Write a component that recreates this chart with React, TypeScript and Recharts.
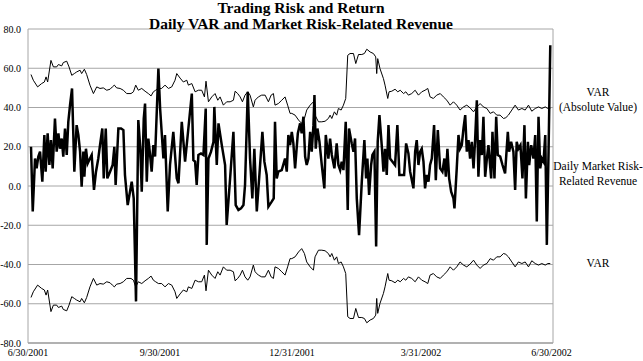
import React from "react";
import { LineChart, Line, XAxis, YAxis, CartesianGrid, ReferenceLine } from "recharts";

// Days since 6/30/2001 and daily market risk-related revenue ($mm)
const revenueDays = [
  2.1, 3.3, 4.9, 6.0, 7.2, 8.4, 10.0, 11.4, 12.3, 13.7, 14.9, 16.0, 17.2, 18.8, 20.0, 21.2, 22.3, 23.5, 24.6, 25.8,
  27.0, 28.1, 29.3, 30.7, 32.3, 33.9, 35.1, 36.3, 37.4, 38.6, 39.3, 40.4, 41.6, 43.2, 44.4, 46.0, 47.4, 49.0, 50.2, 51.8,
  52.8, 54.2, 55.3, 57.2, 59.0, 60.2, 61.1, 63.0, 64.9, 66.5, 67.6, 69.5, 71.1, 72.3, 73.7, 75.3, 76.9, 78.3, 79.3, 80.7,
  81.6, 82.8, 83.9, 85.1, 86.2, 87.4, 88.6, 90.9, 92.1, 94.4, 95.5, 97.4, 99.0, 101.3, 103.7, 104.9, 107.2, 109.5, 111.8, 114.2,
  115.3, 116.5, 117.6, 118.8, 120.6, 122.3, 123.9, 124.6, 125.8, 127.6, 129.3, 129.9, 131.6, 132.8, 135.1, 137.4, 138.5, 140.9, 143.2, 144.8,
  146.7, 148.5, 150.2, 151.3, 153.2, 154.8, 156.4, 157.8, 159.5, 161.8, 163.4, 164.8, 166.4, 167.6, 169.9, 171.3, 172.2, 173.4, 174.5, 176.9,
  179.2, 180.4, 181.5, 182.7, 183.9, 185.0, 186.2, 188.1, 189.7, 190.8, 192.0, 193.2, 194.3, 195.5, 196.7, 197.8, 199.0, 199.7, 200.6, 201.8,
  203.2, 204.8, 206.6, 207.6, 209.4, 210.6, 211.8, 213.6, 215.2, 216.4, 217.6, 218.7, 219.9, 221.5, 222.9, 223.8, 225.7, 226.9, 228.0, 229.2,
  230.8, 232.7, 234.5, 235.7, 236.6, 237.8, 239.2, 240.1, 241.5, 242.7, 243.8, 245.0, 246.6, 247.8, 248.9, 250.1, 251.3, 252.4, 254.1, 255.9,
  257.5, 258.9, 260.5, 262.2, 263.6, 265.2, 266.4, 268.7, 269.9, 271.0, 272.2, 273.4, 274.5, 275.7, 276.8, 278.0, 279.2, 280.3, 281.5, 283.1,
  284.3, 285.7, 287.3, 288.9, 290.3, 291.3, 292.4, 293.6, 295.0, 296.6, 297.3, 298.9, 300.1, 301.2, 302.4, 303.6, 304.8, 305.9, 307.1, 308.2,
  309.4, 310.6, 311.7, 312.9, 314.0, 315.2, 316.4, 317.5, 318.7, 319.9, 321.0, 322.9, 323.8, 325.2, 326.4, 327.5, 329.2, 330.8, 332.6, 334.5,
  335.4, 336.8, 338.4, 339.6, 340.7, 341.9, 343.3, 344.7, 346.1, 347.1, 348.5, 349.4, 350.8, 352.4, 353.6, 354.7, 355.9, 357.1, 358.2, 359.4,
  360.6, 361.7, 362.9, 364.1,
];
const revenueValues = [
  20, -13, 14, 9, 15, 17.5, 2.2, 26, 7.3, 26.8, 10.7, 23.4, 9, 34.4, 17.5, 26.8, 19, 24.2, 15, 29.3,
  15.8, 32.7, 41.2, 49.7, 7.3, 31, 26, 17.5, -0.3, 17.5, 4.7, 19, 11.5, 14, 15.8, -2, 7.3, 14, 20.8, 29.3,
  3.9, 29.3, 3.9, 7.3, 10.7, 20, 0.5, 29.3, 29.3, 28.5, 5.6, -9.7, -2.9, 2.2, -6.3, -58.8, 33.6, 19, -2.9, 34.4,
  42, 2.2, 24.2, 15.8, 7.3, 20.8, 15, 59.8, 39.5, 14, 26, -13, 10.7, 27.6, 3.9, 1.4, 32.7, 12.4, 29.3, 47.1,
  13.2, 12.4, 0.5, 15.8, 16.6, 15.8, 39.5, -30, 14, 17.5, 22.5, 40.3, 10.7, 31.9, 20.8, 10.7, -19.8, 3.9, 27.6, -9.7,
  -12.2, -11.4, -9.7, 0.5, 48, 14, -6.3, 19, -13, 10.7, 27.6, 12.4, 5.6, -10.5, -8, -6.3, 32.7, 3.9, 7.3, 8.1,
  14, 7.3, 26, 20.8, 27.6, 21.7, 9, 26.8, 31.9, 26.8, 35.3, 15, 10.7, 14, 27.6, 17.5, 31, 46.3, 19, 29.3,
  22.5, 10.7, -1.2, 26, 14, 24.2, 15.8, 9, 21.7, 10.7, 8.1, 12.4, 8.1, 32.7, -12.2, 29.3, 21.7, 17.5, 24.2, -6.3,
  -25, 2.2, 23.4, 3.9, 14, -4.6, 10.7, 15.8, 17.5, -30.8, 22.5, 36.1, 20.8, 7.3, 19, 5.6, 31, 14, 12.4, 10.7,
  31, 5.6, 5.6, 5.6, 21.7, 16.6, 7.3, -1.2, 17.5, 23.4, 10.7, 17.5, 19, 12.4, -1.2, 5.6, 2.2, 10.7, 14, 31,
  3, 28.5, 9, 7.3, 14, 4.7, 19, 3.9, -2.9, -6.3, -11.4, 9, 26, 19, 20.8, 29.3, 36.1, 17.5, 23.4, 14,
  22.5, 9, 23.4, 43.7, 4.7, 23.4, 15.8, 35.3, 4.7, 14, 20.8, 3.9, 27.6, 3.9, 35.3, 15.8, 15, 10.7, 6.4, 27.6,
  17.5, 22.5, 17.5, -2, 22.5, 19, 20.8, 3.9, 31, -6.3, 22.5, 10.7, 20.8, 14, 26, -18.1, 35.3, 9, 14, 12.4,
  26, -30, 17.5, 71.7,
];

// Days since 6/30/2001 and daily VAR (absolute value)
const varDays = [
  2.1, 3.7, 6.7, 9.5, 11.4, 12.6, 13.7, 16.0, 17.7, 20.0, 21.2, 23.5, 24.6, 27.0, 28.6, 30.5, 32.3, 33.9, 36.3, 37.4,
  39.3, 40.9, 43.2, 45.6, 47.9, 50.2, 52.5, 54.9, 57.2, 58.8, 60.2, 61.8, 64.2, 66.5, 68.8, 71.8, 73.5, 75.1, 76.9, 79.3,
  81.6, 83.9, 85.8, 87.4, 89.0, 90.9, 93.2, 95.5, 97.9, 100.2, 102.5, 103.7, 106.0, 108.3, 110.7, 111.8, 114.2, 116.5, 118.8, 121.1,
  123.0, 124.1, 125.8, 128.1, 130.4, 132.3, 133.9, 136.2, 138.5, 140.9, 143.2, 144.4, 146.2, 147.9, 149.5, 151.3, 153.2, 154.8, 157.1, 158.3,
  160.6, 162.9, 165.3, 167.6, 169.5, 171.1, 172.2, 174.5, 176.9, 179.2, 181.0, 182.7, 183.9, 186.2, 188.6, 190.8, 192.7, 194.3, 196.7, 199.0,
  200.1, 202.5, 204.8, 207.1, 209.4, 210.6, 211.8, 213.6, 215.2, 216.4, 218.3, 219.9, 221.5, 222.9, 224.5, 226.9, 228.5, 230.4, 232.7, 234.5,
  236.2, 238.5, 240.8, 242.4, 243.1, 243.8, 245.4, 247.8, 248.9, 250.8, 251.7, 253.6, 255.9, 257.8, 259.5, 261.8, 263.4, 265.2, 267.5, 269.9,
  272.2, 274.5, 276.8, 278.7, 280.3, 282.6, 284.9, 287.4, 289.6, 292.0, 294.3, 296.6, 298.9, 301.2, 303.6, 305.9, 308.2, 310.6, 312.9, 315.2,
  317.5, 319.9, 322.2, 324.5, 326.8, 329.1, 331.5, 333.1, 334.9, 337.3, 339.6, 341.9, 344.3, 346.6, 348.9, 351.2, 353.6, 355.9, 358.2, 360.6,
  362.4, 364.1,
];
const varValues = [
  56.8, 53.9, 50.5, 52.2, 53, 55.6, 53, 64, 60.7, 60.7, 61.9, 61.2, 62.9, 63.6, 60.7, 56.4, 57.3, 58.1, 59, 57.3,
  59.5, 56.8, 51.4, 47.1, 50.5, 49.7, 50, 48.8, 49.3, 50.5, 51.4, 50, 49.7, 48.8, 47.1, 47.1, 48, 51.4, 48.8, 49.7,
  48.3, 47.1, 45.9, 48, 48.8, 49.7, 49.7, 51.4, 49.7, 50.5, 53.9, 57.3, 55, 53, 53.9, 51.4, 52.2, 48, 48.8, 48.8,
  45.4, 53.4, 42.9, 45.4, 47.1, 43.7, 45.4, 41.2, 42.9, 42.9, 43.7, 48.3, 47.1, 45.4, 42.9, 46.3, 48, 46.3, 40.3, 43.7,
  45.4, 46.3, 46.3, 42.9, 46.3, 47.1, 41.2, 42, 43.7, 45.4, 41.2, 37, 37, 36.1, 33.6, 31.9, 34.4, 38.7, 41.2, 42.9,
  36.1, 32.7, 32.7, 33, 34.4, 36.1, 34.4, 37.8, 36.1, 39.5, 38.7, 41.2, 44.6, 66.6, 67.5, 67.5, 62.4, 67, 67, 67.5,
  69.7, 68.3, 67.5, 65.8, 57.3, 64.9, 59.8, 54.7, 51.4, 44.6, 48, 48.3, 49.3, 48, 48.8, 47.1, 48, 46.3, 47.1, 48.8,
  46.3, 48, 48.8, 49.7, 45.4, 44.6, 46.3, 47.1, 45.4, 43.7, 41.2, 42.9, 41.2, 38.7, 40.3, 41.2, 39.8, 37.8, 40.3, 42,
  40.3, 39.5, 37, 37.8, 36.1, 36.1, 34.4, 34.8, 36.1, 38.7, 41.2, 38.7, 39.5, 38.7, 41.2, 38.1, 39.5, 40.3, 39.5, 40.3,
  39.5, 39.5,
];

const xTickDays = [0, 92, 184, 274, 365];
const xTickLabels = ["6/30/2001", "9/30/2001", "12/31/2001", "3/31/2002", "6/30/2002"];
const yTicks = [-80, -60, -40, -20, 0, 20, 40, 60, 80];

const revenueData = revenueDays.map((d, i) => ({ d, v: revenueValues[i] }));
const varData = varDays.map((d, i) => ({ d, hi: varValues[i], lo: -varValues[i] }));

const FONT = "'Liberation Serif', 'Times New Roman', serif";
const GRID = "#a6a6a6";

const labelStyle: React.CSSProperties = {
  position: "absolute",
  left: 553,
  width: 90,
  textAlign: "center",
  fontFamily: FONT,
  fontSize: 11.5,
  lineHeight: "15px",
  color: "#000",
  whiteSpace: "nowrap",
};

export default function App() {
  return (
    <div style={{ position: "absolute", left: 0, top: 0, width: 643, height: 361, background: "#fff" }}>
      <LineChart width={643} height={361} margin={{ top: 29, right: 90, bottom: 0, left: 0 }}>
        <CartesianGrid horizontal vertical={false} stroke={GRID} strokeWidth={1} />
        <XAxis
          dataKey="d"
          type="number"
          domain={[0, 366]}
          ticks={xTickDays}
          interval={0}
          allowDataOverflow
          height={18}
          tickLine={false}
          tickSize={0}
          tickMargin={6}
          axisLine={{ stroke: GRID, strokeWidth: 1.5 }}
          tick={{ fontFamily: FONT, fontSize: 10, fill: "#000" }}
          tickFormatter={(v: number) => xTickLabels[xTickDays.indexOf(v)] ?? ""}
        />
        <YAxis
          type="number"
          domain={[-80, 80]}
          ticks={yTicks}
          interval={0}
          width={28}
          tickLine={false}
          tickSize={0}
          tickMargin={7}
          axisLine={{ stroke: GRID }}
          tick={{ fontFamily: FONT, fontSize: 10, fill: "#000" }}
          tickFormatter={(v: number) => v.toFixed(1)}
        />
        <ReferenceLine x={366} stroke={GRID} />
        <Line data={varData} dataKey="hi" type="linear" stroke="#000" strokeWidth={1} dot={false} isAnimationActive={false} />
        <Line data={varData} dataKey="lo" type="linear" stroke="#000" strokeWidth={1} dot={false} isAnimationActive={false} />
        <Line data={revenueData} dataKey="v" type="linear" stroke="#000" strokeWidth={2.5} dot={false} isAnimationActive={false} />
      </LineChart>
      <div
        style={{
          position: "absolute",
          left: 0,
          top: 0,
          width: 602,
          textAlign: "center",
          fontFamily: FONT,
          fontWeight: "bold",
          fontSize: 15.5,
          lineHeight: "15.5px",
          color: "#000",
        }}
      >
        <div>Trading Risk and Return</div>
        <div>Daily VAR and Market Risk-Related Revenue</div>
      </div>
      <div style={{ ...labelStyle, top: 85 }}>
        <div>VAR</div>
        <div>(Absolute Value)</div>
      </div>
      <div style={{ ...labelStyle, top: 159 }}>
        <div>Daily Market Risk-</div>
        <div>Related Revenue</div>
      </div>
      <div style={{ ...labelStyle, top: 256 }}>
        <div>VAR</div>
      </div>
    </div>
  );
}
